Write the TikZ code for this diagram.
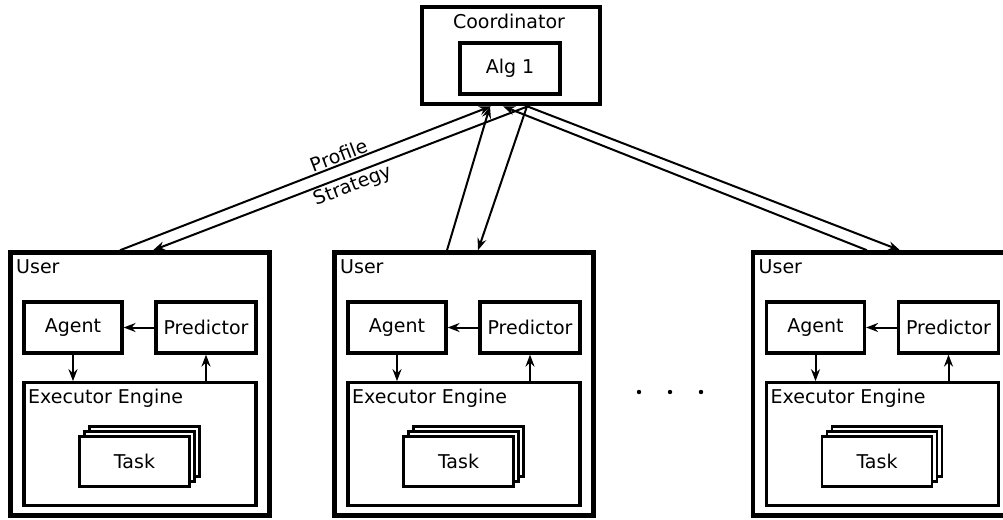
\documentclass[tikz,border=0pt]{standalone}
\usepackage{fontspec}
\setmainfont{DejaVu Sans}
\usetikzlibrary{arrows.meta,calc}
\begin{document}
\begin{tikzpicture}[x=1pt,y=-1pt,
  font=\fontsize{19}{22}\selectfont,
  outerbox/.style={draw,line width=4.5pt,inner sep=0pt},
  innerbox/.style={draw,line width=3.2pt,inner sep=0pt},
  taskbox/.style={draw,line width=2.2pt,fill=white,inner sep=0pt,minimum width=110pt,minimum height=50pt},
  lbl/.style={inner sep=0pt},
  arr/.style={line width=2pt,-{Stealth[length=12pt,width=9pt,inset=4pt]}},
]
\useasboundingbox (0,0) rectangle (1003,519);

% coordinator
\node[outerbox,minimum width=178pt,minimum height=97pt] (coord) at (511,55.5) {};
\node[lbl] (coordlab) at (509,21) {Coordinator};
\node[innerbox,minimum width=100pt,minimum height=51pt] (alg) at (510,68.5) {Alg 1};

% users
\foreach \i/\o in {1/0,2/324,3/742.5}{
  \begin{scope}[xshift=\o pt]
    \node[outerbox,minimum width=259pt,minimum height=263pt] (user\i) at (140,384) {};
    \node[lbl,anchor=west] (ulab\i) at (16,267) {User};
    \node[innerbox,minimum width=98pt,minimum height=51pt] (agent\i) at (73,327.5) {Agent};
    \node[innerbox,minimum width=100pt,minimum height=51pt] (pred\i) at (206,327.5) {Predictor};
    \node[innerbox,minimum width=232pt,minimum height=122.5pt] (exec\i) at (140,444) {};
    \node[lbl,anchor=west] (elab\i) at (28,398) {Executor Engine};
    \node[taskbox] (taskc\i) at (144.5,451.5) {};
    \node[taskbox] (taskb\i) at (139.5,456.5) {};
    \node[taskbox] (task\i) at (134.5,461.5) {Task};
    \draw[arr] (pred\i.west) -- (agent\i.east);
    \draw[arr] (agent\i.south) -- (agent\i.south |- exec\i.north);
    \draw[arr] (pred\i.south |- exec\i.north) -- (pred\i.south);
  \end{scope}
}

% connectors
\draw[arr] ([xshift=-20pt]user1.north) -- ([xshift=-20pt]coord.south);
\draw[arr] ([xshift=17pt]coord.south) -- ([xshift=13pt]user1.north);
\draw[arr] ([xshift=-17pt]user2.north) -- ([xshift=-21pt]coord.south);
\draw[arr] ([xshift=16pt]coord.south) -- ([xshift=14pt]user2.north);
\draw[arr] ([xshift=16pt]coord.south) -- ([xshift=17.5pt]user3.north);
\draw[arr] ([xshift=-15.5pt]user3.north) -- ([xshift=-8pt]coord.south);

\node[lbl,rotate=21] (proflab) at (339,155) {Profile};
\node[lbl,rotate=21] (stratlab) at (353,186) {Strategy};

% dots
\fill (639,392) circle (2.2pt);
\fill (670,392) circle (2.2pt);
\fill (701,392) circle (2.2pt);
\end{tikzpicture}
\end{document}
